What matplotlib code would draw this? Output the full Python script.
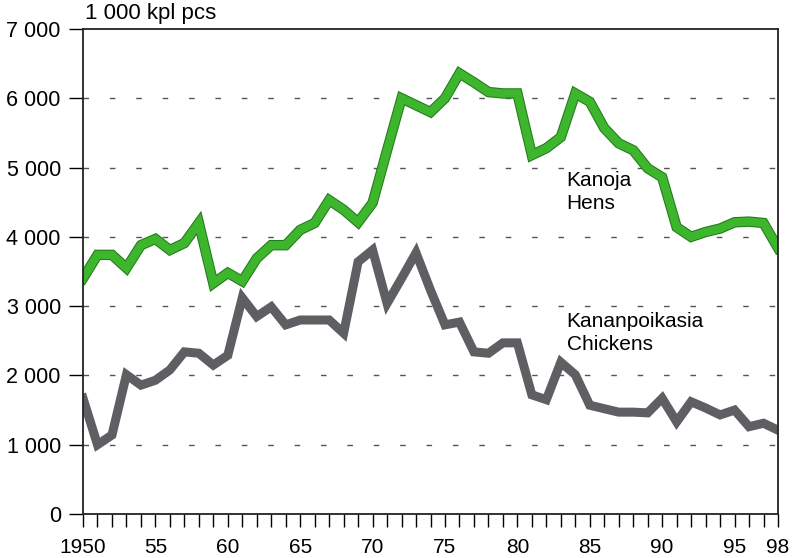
import matplotlib.pyplot as plt
import matplotlib.patheffects as pe
from matplotlib.ticker import FuncFormatter, MultipleLocator

plt.rcParams['font.family'] = ['Liberation Sans', 'DejaVu Sans']

years = list(range(1950, 1999))

# Kanoja / Hens, 1 000 pcs
hens = [3400, 3740, 3740, 3550, 3880, 3970, 3810, 3910, 4200, 3330,
        3480, 3360, 3690, 3880, 3880, 4100, 4200, 4530, 4390, 4210,
        4490, 5250, 6000, 5900, 5800, 6000, 6360, 6230, 6090, 6070,
        6070, 5180, 5280, 5440, 6070, 5950, 5570, 5350, 5250, 4990,
        4860, 4140, 4000, 4070, 4120, 4210, 4220, 4200, 3840]

# Kananpoikasia / Chickens, 1 000 pcs
chickens = [1670, 1000, 1140, 2010, 1860, 1930, 2080, 2340, 2320, 2150,
            2290, 3120, 2850, 2990, 2730, 2800, 2800, 2800, 2610, 3640,
            3810, 3040, 3400, 3770, 3230, 2730, 2770, 2340, 2320, 2470,
            2470, 1720, 1650, 2190, 2010, 1570, 1520, 1470, 1470, 1460,
            1670, 1330, 1620, 1530, 1430, 1500, 1260, 1310, 1210]

xtick_years = [1950, 1955, 1960, 1965, 1970, 1975, 1980, 1985, 1990, 1995, 1998]
xtick_labels = ['1950', '55', '60', '65', '70', '75', '80', '85', '90', '95', '98']

fig = plt.figure(figsize=(7.93, 5.58), dpi=100)
ax = fig.add_axes([83 / 793, 44 / 558, 695 / 793, 485 / 558])

ax.plot(years, hens, color='#3db52d', lw=6, solid_joinstyle='miter',
        path_effects=[pe.Stroke(linewidth=7.5, foreground='#237a1a'), pe.Normal()])
ax.plot(years, chickens, color='#5e5f63', lw=6.5, solid_joinstyle='miter')

ax.set_xlim(1950, 1998)
ax.set_ylim(0, 7000)

# y axis
ax.yaxis.set_major_locator(MultipleLocator(1000))
ax.yaxis.set_major_formatter(FuncFormatter(lambda v, p: f'{int(v):,}'.replace(',', ' ')))
ax.tick_params(axis='y', direction='out', length=10, width=1, labelsize=15.5, pad=6)
for v in range(1000, 7000, 1000):
    ax.axhline(v, color='#555555', lw=1, ls=(0, (4, 15)), zorder=0)

# x axis
ax.set_xticks(years, minor=True)
ax.set_xticks(xtick_years)
ax.set_xticklabels(xtick_labels)
ax.tick_params(axis='x', which='both', direction='out', length=9, width=1,
               labelsize=15, pad=8)

for s in ax.spines.values():
    s.set_linewidth(1.3)
    s.set_color('#222222')

fig.text(85 / 793, 1 - 14 / 558, '1 000 kpl pcs', fontsize=16, va='center', ha='left')

ax.text(1983.4, 4650, 'Kanoja\nHens', fontsize=15, va='center', ha='left', linespacing=1.3)
ax.text(1983.4, 2610, 'Kananpoikasia\nChickens', fontsize=15, va='center', ha='left',
        linespacing=1.3)

fig.savefig('out.png', dpi=100)
